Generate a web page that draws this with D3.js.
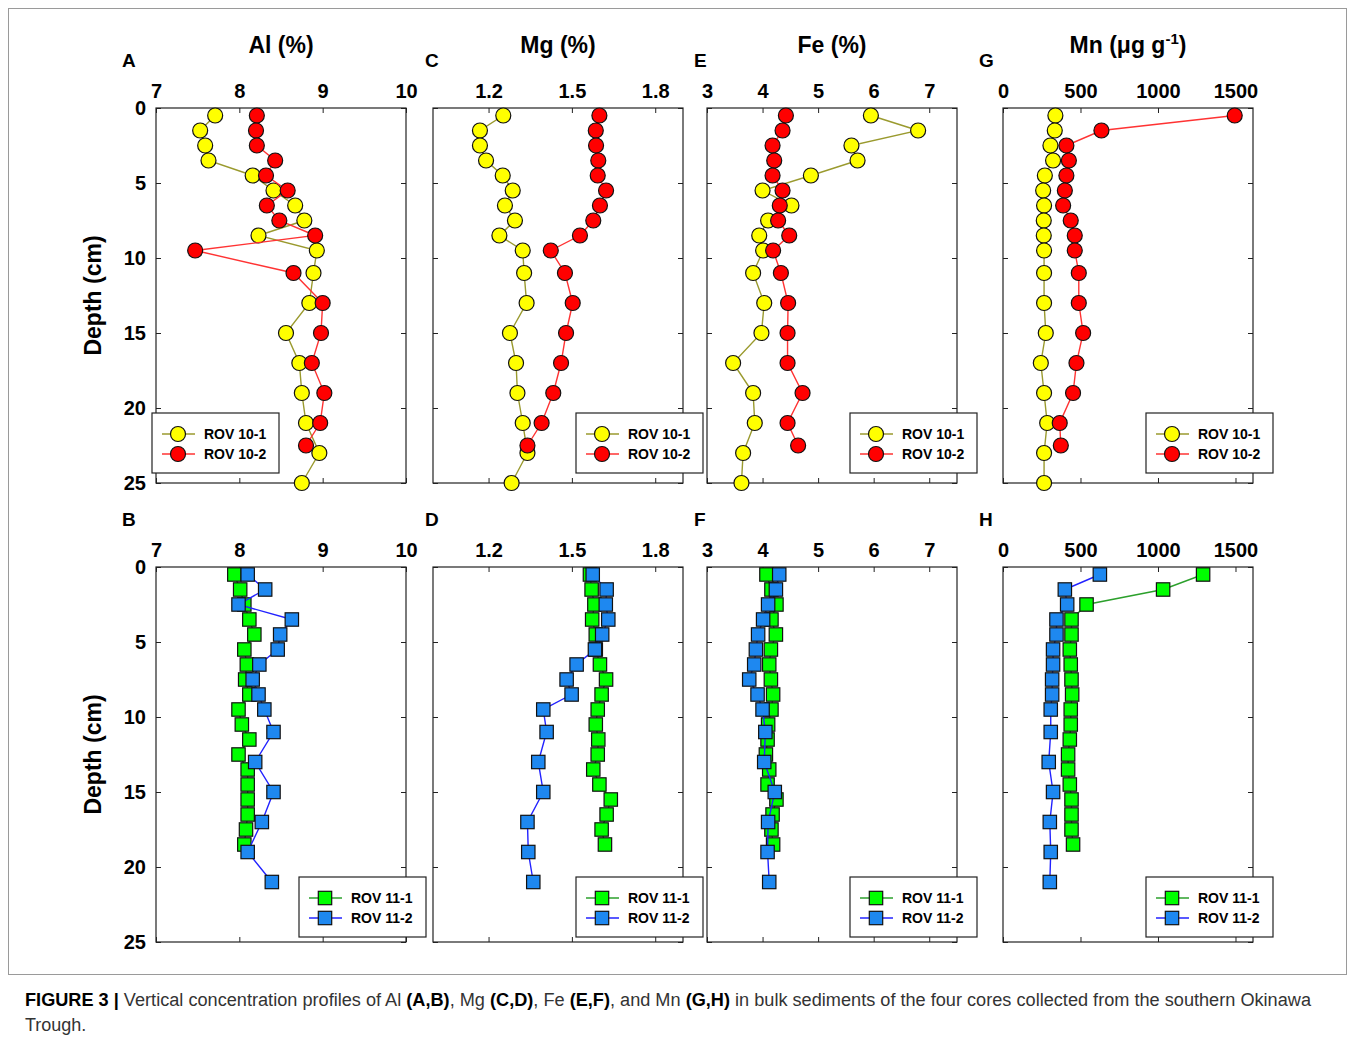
<!DOCTYPE html>
<html lang="en">
<head>
    <meta charset="UTF-8">
    <title>Figure 3 - Vertical concentration profiles</title>
    <style>
        body { margin: 0; background: #fff; }
        svg text { font-family: Arial, "Liberation Sans", sans-serif; fill: #000; }
        .tick text { font-size: 20px; font-weight: bold; }
        .title { font-size: 23px; font-weight: bold; }
        .letter { font-size: 19px; font-weight: bold; }
        .depth-label { font-size: 23px; font-weight: bold; }
        .legend-text { font-size: 14px; font-weight: bold; }
        .caption { font-size: 18px; fill: #333; font-family: "Liberation Sans Narrow", Arial, sans-serif; }
    </style>
</head>
<body>

<svg width="1355" height="1041"></svg>

<script src="https://d3js.org/d3.v7.min.js"></script>

<script>

    // Depths (cm) of the samples in each core
    const depth10_1 = [0.5, 1.5, 2.5, 3.5, 4.5, 5.5, 6.5, 7.5, 8.5, 9.5, 11, 13, 15, 17, 19, 21, 23, 25];
    const depth10_2 = [0.5, 1.5, 2.5, 3.5, 4.5, 5.5, 6.5, 7.5, 8.5, 9.5, 11, 13, 15, 17, 19, 21, 22.5];
    const depth11_1 = [0.5, 1.5, 2.5, 3.5, 4.5, 5.5, 6.5, 7.5, 8.5, 9.5, 10.5, 11.5, 12.5, 13.5, 14.5, 15.5, 16.5, 17.5, 18.5];
    const depth11_2 = [0.5, 1.5, 2.5, 3.5, 4.5, 5.5, 6.5, 7.5, 8.5, 9.5, 11, 13, 15, 17, 19, 21];

    // Al (%)
    const al10_1 = [7.71, 7.53, 7.59, 7.63, 8.16, 8.41, 8.67, 8.78, 8.23, 8.93, 8.89, 8.84, 8.56, 8.72, 8.75, 8.80, 8.96, 8.75];
    const al10_2 = [8.21, 8.20, 8.21, 8.43, 8.32, 8.58, 8.33, 8.48, 8.91, 7.47, 8.65, 9.00, 8.98, 8.87, 9.02, 8.97, 8.80];
    const al11_1 = [7.94, 8.01, 8.06, 8.12, 8.18, 8.06, 8.09, 8.07, 8.12, 7.99, 8.03, 8.12, 7.99, 8.10, 8.10, 8.10, 8.10, 8.08, 8.06];
    const al11_2 = [8.10, 8.31, 7.99, 8.63, 8.49, 8.46, 8.24, 8.16, 8.23, 8.30, 8.41, 8.19, 8.41, 8.27, 8.10, 8.39];

    // Mg (%)
    const mg10_1 = [1.253, 1.169, 1.169, 1.191, 1.251, 1.287, 1.259, 1.295, 1.239, 1.323, 1.328, 1.337, 1.277, 1.299, 1.304, 1.323, 1.340, 1.283];
    const mg10_2 = [1.599, 1.586, 1.587, 1.595, 1.593, 1.623, 1.601, 1.577, 1.529, 1.424, 1.475, 1.503, 1.479, 1.461, 1.433, 1.391, 1.340];
    const mg11_1 = [1.565, 1.571, 1.581, 1.573, 1.586, 1.586, 1.601, 1.623, 1.607, 1.593, 1.586, 1.595, 1.593, 1.577, 1.599, 1.640, 1.625, 1.607, 1.619];
    const mg11_2 = [1.575, 1.625, 1.622, 1.631, 1.609, 1.583, 1.517, 1.481, 1.499, 1.397, 1.409, 1.379, 1.397, 1.340, 1.343, 1.361];

    // Fe (%)
    const fe10_1 = [5.95, 6.80, 5.60, 5.71, 4.87, 4.00, 4.52, 4.10, 3.94, 4.01, 3.83, 4.03, 3.98, 3.47, 3.83, 3.86, 3.65, 3.62];
    const fe10_2 = [4.42, 4.36, 4.18, 4.21, 4.18, 4.36, 4.31, 4.28, 4.48, 4.19, 4.33, 4.46, 4.45, 4.45, 4.72, 4.45, 4.64];
    const fe11_1 = [4.07, 4.16, 4.25, 4.16, 4.24, 4.15, 4.12, 4.15, 4.19, 4.16, 4.10, 4.09, 4.06, 4.12, 4.09, 4.25, 4.18, 4.16, 4.19];
    const fe11_2 = [4.30, 4.24, 4.10, 4.01, 3.92, 3.88, 3.85, 3.76, 3.91, 4.00, 4.05, 4.03, 4.22, 4.10, 4.09, 4.12];

    // Mn (ug/g)
    const mn10_1 = [338, 334, 306, 323, 270, 259, 265, 263, 263, 265, 265, 265, 276, 244, 265, 285, 265, 265];
    const mn10_2 = [1495, 635, 409, 425, 409, 399, 388, 437, 463, 463, 489, 489, 517, 474, 452, 366, 373];
    const mn11_1 = [1291, 1033, 539, 442, 442, 431, 437, 442, 446, 437, 437, 431, 420, 420, 431, 442, 442, 442, 452];
    const mn11_2 = [625, 399, 414, 345, 345, 323, 323, 317, 317, 308, 308, 295, 323, 302, 308, 302];

    // Axis setup for each element column
    const xDomains = [[7, 10], [1.0, 1.9], [3, 7.5], [0, 1613]];
    const xTicks = [[7, 8, 9, 10], [1.2, 1.5, 1.8], [3, 4, 5, 6, 7], [0, 500, 1000, 1500]];
    const xFormats = [d3.format('d'), d3.format('.1f'), d3.format('d'), d3.format('d')];
    const depthTicks = [0, 5, 10, 15, 20, 25];

    const svg = d3.select('svg');

    const colLeft = [156, 433, 707, 1003];
    const panelWidth = 250;
    const rowTop = [108, 567];
    const panelHeight = 375;

    // how far left of the frame each panel letter sits
    const letterOffset = [34, 8, 13, 24];

    const seriesStyle = {
        '10-1': { fill: '#ffff00', line: '#9a9a2e', shape: 'circle' },
        '10-2': { fill: '#ff0000', line: '#ff3333', shape: 'circle' },
        '11-1': { fill: '#00ff00', line: '#2ca02c', shape: 'square' },
        '11-2': { fill: '#1e88f0', line: '#2222ff', shape: 'square' }
    };

    const panels = [
        { letter: 'A', col: 0, row: 0, legendLeft: true, series: [['10-1', al10_1, depth10_1], ['10-2', al10_2, depth10_2]] },
        { letter: 'C', col: 1, row: 0, series: [['10-1', mg10_1, depth10_1], ['10-2', mg10_2, depth10_2]] },
        { letter: 'E', col: 2, row: 0, series: [['10-1', fe10_1, depth10_1], ['10-2', fe10_2, depth10_2]] },
        { letter: 'G', col: 3, row: 0, series: [['10-1', mn10_1, depth10_1], ['10-2', mn10_2, depth10_2]] },
        { letter: 'B', col: 0, row: 1, series: [['11-1', al11_1, depth11_1], ['11-2', al11_2, depth11_2]] },
        { letter: 'D', col: 1, row: 1, series: [['11-1', mg11_1, depth11_1], ['11-2', mg11_2, depth11_2]] },
        { letter: 'F', col: 2, row: 1, series: [['11-1', fe11_1, depth11_1], ['11-2', fe11_2, depth11_2]] },
        { letter: 'H', col: 3, row: 1, series: [['11-1', mn11_1, depth11_1], ['11-2', mn11_2, depth11_2]] }
    ];

    // Figure frame
    svg.append('rect')
        .attr('x', 8.5).attr('y', 8.5)
        .attr('width', 1338).attr('height', 966)
        .attr('fill', 'none')
        .attr('stroke', '#9a9a9a')
        .attr('stroke-width', 1);

    // Element titles over the columns
    const titles = ['Al (%)', 'Mg (%)', 'Fe (%)', null];
    titles.forEach(function (t, i) {
        const tx = svg.append('text')
            .attr('class', 'title')
            .attr('x', colLeft[i] + panelWidth / 2)
            .attr('y', 53)
            .attr('text-anchor', 'middle');
        if (t) {
            tx.text(t);
        } else {
            tx.append('tspan').text('Mn (\u03bcg g');
            tx.append('tspan').attr('dy', -9).attr('font-size', '15px').text('-1');
            tx.append('tspan').attr('dy', 9).text(')');
        }
    });

    // Depth labels
    rowTop.forEach(function (top) {
        svg.append('text')
            .attr('class', 'depth-label')
            .attr('transform', 'translate(101 ' + (top + panelHeight / 2) + ') rotate(-90)')
            .attr('text-anchor', 'middle')
            .text('Depth (cm)');
    });

    const drawMarker = function (g, shape, fill, cx, cy) {
        if (shape === 'circle') {
            g.append('circle')
                .attr('cx', cx).attr('cy', cy).attr('r', 7.5)
                .attr('fill', fill).attr('stroke', '#111').attr('stroke-width', 1.2);
        } else {
            g.append('rect')
                .attr('x', cx - 6.7).attr('y', cy - 6.7)
                .attr('width', 13.4).attr('height', 13.4)
                .attr('fill', fill).attr('stroke', '#111').attr('stroke-width', 1.2);
        }
    };

    panels.forEach(function (p) {
        const left = colLeft[p.col];
        const top = rowTop[p.row];

        const x = d3.scaleLinear().domain(xDomains[p.col]).range([left, left + panelWidth]);
        const y = d3.scaleLinear().domain([0, 25]).range([top, top + panelHeight]);

        const g = svg.append('g');

        // Ticks point inward on all four sides
        const topAxis = g.append('g')
            .attr('transform', 'translate(0 ' + top + ')')
            .call(d3.axisTop(x).tickValues(xTicks[p.col]).tickFormat(xFormats[p.col]).tickSizeInner(-5).tickSizeOuter(0).tickPadding(10));
        topAxis.select('.domain').remove();
        topAxis.attr('font-family', null).attr('font-size', null);

        const bottomAxis = g.append('g')
            .attr('transform', 'translate(0 ' + (top + panelHeight) + ')')
            .call(d3.axisBottom(x).tickValues(xTicks[p.col]).tickFormat('').tickSizeInner(-5).tickSizeOuter(0));
        bottomAxis.select('.domain').remove();

        const leftAxis = g.append('g')
            .attr('transform', 'translate(' + left + ' 0)')
            .call(d3.axisLeft(y).tickValues(depthTicks).tickFormat(p.col === 0 ? d3.format('d') : '').tickSizeInner(-5).tickSizeOuter(0).tickPadding(10));
        leftAxis.select('.domain').remove();
        leftAxis.attr('font-family', null).attr('font-size', null);

        const rightAxis = g.append('g')
            .attr('transform', 'translate(' + (left + panelWidth) + ' 0)')
            .call(d3.axisRight(y).tickValues(depthTicks).tickFormat('').tickSizeInner(-5).tickSizeOuter(0));
        rightAxis.select('.domain').remove();

        g.selectAll('.tick line').attr('stroke', '#222');

        // Frame
        g.append('rect')
            .attr('x', left).attr('y', top)
            .attr('width', panelWidth).attr('height', panelHeight)
            .attr('fill', 'none')
            .attr('stroke', '#222')
            .attr('stroke-width', 1.2);

        // Panel letter
        svg.append('text')
            .attr('class', 'letter')
            .attr('x', left - letterOffset[p.col])
            .attr('y', top - 41)
            .text(p.letter);

        // Series: line first, then markers
        p.series.forEach(function (s) {
            const style = seriesStyle[s[0]];
            const pts = s[1].map(function (v, i) { return [v, s[2][i]]; });

            const line = d3.line()
                .x(function (d) { return x(d[0]); })
                .y(function (d) { return y(d[1]); });

            const sg = g.append('g');
            sg.append('path')
                .attr('d', line(pts))
                .attr('fill', 'none')
                .attr('stroke', style.line)
                .attr('stroke-width', 1.4);

            pts.forEach(function (d) {
                drawMarker(sg, style.shape, style.fill, x(d[0]), y(d[1]));
            });
        });

        // Legend
        const lw = 127;
        const lh = 60;
        const lx = p.legendLeft ? left - 4 : left + panelWidth + 20 - lw;
        const ly = top + (p.row === 0 ? 305 : 310);

        const lg = svg.append('g').attr('transform', 'translate(' + lx + ' ' + ly + ')');
        lg.append('rect')
            .attr('width', lw).attr('height', lh)
            .attr('fill', '#fff')
            .attr('stroke', '#222')
            .attr('stroke-width', 1.2);

        p.series.forEach(function (s, i) {
            const style = seriesStyle[s[0]];
            const ry = 21 + i * 20;
            lg.append('line')
                .attr('x1', 10).attr('x2', 43)
                .attr('y1', ry).attr('y2', ry)
                .attr('stroke', style.line)
                .attr('stroke-width', 1.4);
            drawMarker(lg, style.shape, style.fill, 26, ry);
            lg.append('text')
                .attr('class', 'legend-text')
                .attr('x', 52)
                .attr('y', ry + 5)
                .text('ROV ' + s[0]);
        });
    });

    // Caption
    const cap = svg.append('text')
        .attr('class', 'caption')
        .attr('x', 25)
        .attr('y', 1006)
        .attr('textLength', 1286)
        .attr('lengthAdjust', 'spacingAndGlyphs');
    const capParts = [
        ['FIGURE 3 |', true], [' Vertical concentration profiles of Al ', false], ['(A,B)', true],
        [', Mg ', false], ['(C,D)', true], [', Fe ', false], ['(E,F)', true],
        [', and Mn ', false], ['(G,H)', true],
        [' in bulk sediments of the four cores collected from the southern Okinawa', false]
    ];
    capParts.forEach(function (c) {
        cap.append('tspan')
            .attr('font-weight', c[1] ? 'bold' : 'normal')
            .attr('fill', c[1] ? '#000' : '#333')
            .text(c[0]);
    });

    svg.append('text')
        .attr('class', 'caption')
        .attr('x', 25)
        .attr('y', 1031)
        .text('Trough.');

</script>

</body>
</html>
